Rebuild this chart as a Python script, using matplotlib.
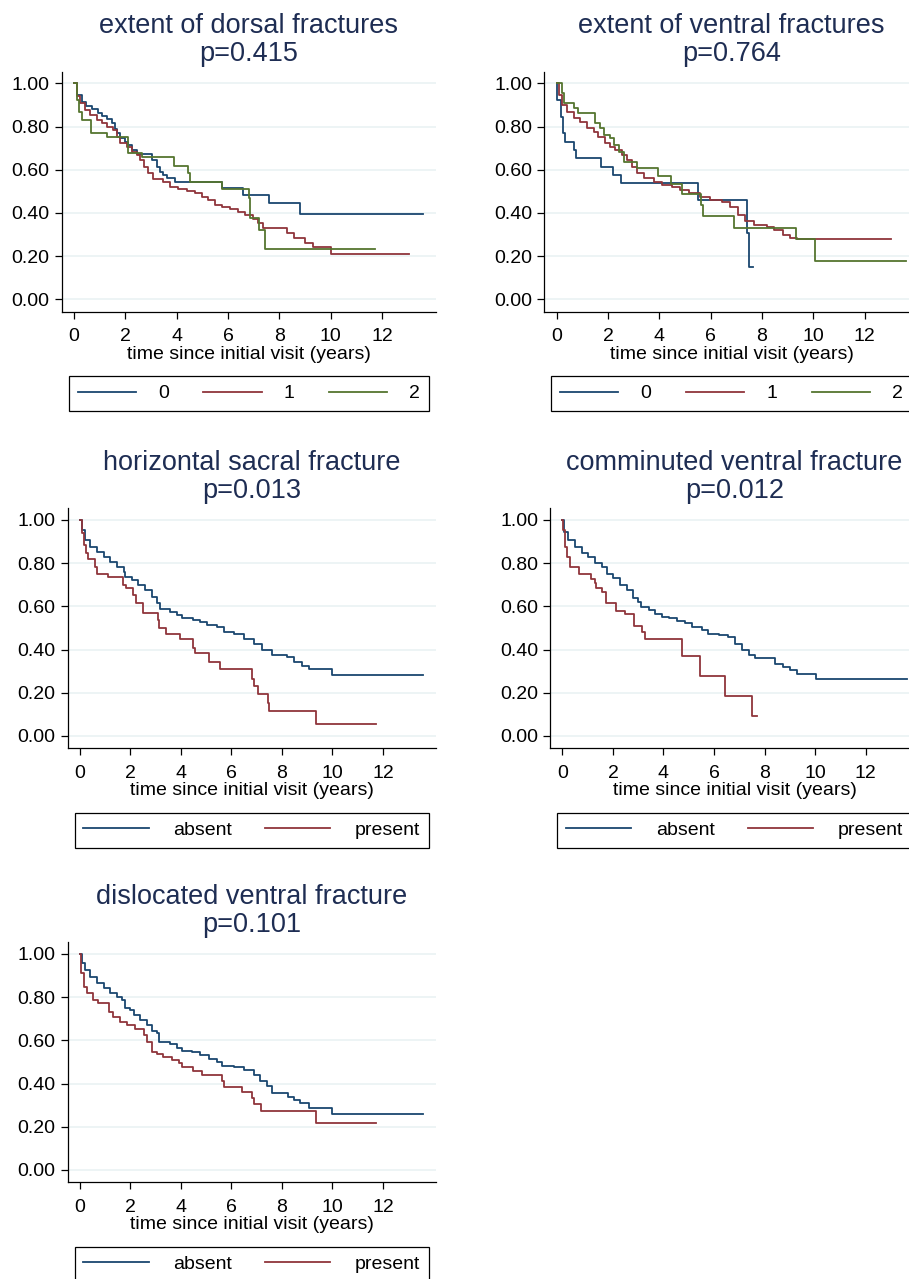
import matplotlib
matplotlib.use("Agg")
import matplotlib.pyplot as plt

plt.rcParams['font.family'] = ['Liberation Sans', 'DejaVu Sans']

NAVY = '#1a476f'
MAROON = '#90353b'
FOREST = '#55752f'
TITLE_COLOR = '#1e2d53'
GRID_COLOR = '#eaf2f3'

# --- data: Kaplan-Meier step points (time in years, survival) ---
# extent of dorsal fractures
dorsal_t0 = [0, .13, .3, .47, .69, .95, 1.1, 1.27, 1.47, 1.6, 1.69, 1.79, 1.99, 2.12, 2.25, 2.44,
             3.05, 3.22, 3.35, 3.48, 3.61, 3.94, 5.77, 6.6, 7.6, 8.8, 13.6]
dorsal_s0 = [1, .946, .915, .895, .88, .864, .85, .833, .815, .79, .772, .745, .73, .715, .69, .673,
             .645, .614, .59, .576, .56, .545, .514, .483, .444, .394, .394]
dorsal_t1 = [0, .1, .23, .43, .62, .88, 1.08, 1.27, 1.53, 1.66, 1.79, 2.05, 2.25, 2.44, 2.57, 2.73,
             2.9, 3.09, 3.48, 3.74, 4.06, 4.39, 4.71, 4.97, 5.23, 5.49, 5.75, 6.08, 6.4, 6.66, 6.99,
             7.18, 7.38, 8.29, 8.55, 9.0, 9.32, 10.0, 13.03]
dorsal_s1 = [1, .94, .907, .877, .853, .83, .815, .8, .784, .753, .722, .707, .684, .668, .645, .614,
             .583, .556, .545, .522, .509, .503, .491, .475, .46, .437, .426, .417, .406, .39, .37,
             .352, .332, .306, .282, .262, .241, .21, .21]
dorsal_t2 = [0, .13, .21, .3, .65, 1.3, 2.12, 2.64, 3.9, 4.43, 4.5, 5.77, 6.8, 6.87, 7.2, 7.45, 11.73]
dorsal_s2 = [1, .923, .869, .83, .772, .753, .676, .657, .619, .583, .545, .509, .47, .375, .32, .231, .231]

# extent of ventral fractures
ventral_t0 = [0, .02, .18, .23, .31, .69, .75, 1.73, 2.2, 2.52, 5.5, 7.4, 7.5, 7.63]
ventral_s0 = [1, .923, .846, .769, .73, .691, .653, .614, .576, .537, .46, .306, .151, .151]
ventral_t1 = [0, .08, .21, .4, .66, .92, 1.18, 1.44, 1.63, 1.89, 2.09, 2.28, 2.54, 2.74, 2.93, 3.13,
              3.39, 3.78, 4.1, 4.49, 4.81, 5.14, 5.59, 5.98, 6.43, 6.76, 7.08, 7.34, 7.67, 8.19,
              8.45, 8.83, 9.09, 9.35, 13.03]
ventral_s1 = [1, .946, .9, .869, .838, .823, .792, .776, .753, .722, .707, .691, .668, .645, .614, .583,
              .56, .545, .529, .522, .506, .491, .475, .46, .452, .429, .39, .364, .344, .336,
              .321, .298, .282, .278, .278]
ventral_t2 = [0, .21, .27, .69, .83, 1.5, 1.7, 1.83, 2.09, 2.22, 2.44, 2.61, 3.13, 3.93, 4.45, 4.88,
              5.63, 5.72, 6.9, 9.34, 10.05, 13.6]
ventral_s2 = [1, .954, .907, .884, .861, .815, .792, .761, .746, .714, .684, .637, .606, .571, .534, .486,
              .437, .386, .332, .278, .177, .177]

# horizontal sacral fracture
horiz_t_abs = [0, .08, .21, .41, .67, .94, 1.2, 1.47, 1.73, 1.8, 2.06, 2.32, 2.59, 2.85, 3.05, 3.18,
               3.58, 3.84, 4.04, 4.5, 4.77, 5.03, 5.43, 5.69, 6.09, 6.48, 6.88, 7.21, 7.6, 8.2, 8.46,
               8.79, 9.06, 10.0, 13.6]
horiz_s_abs = [1, .954, .907, .876, .853, .83, .807, .784, .76, .737, .722, .699, .675, .645, .614, .59,
               .575, .56, .544, .539, .529, .513, .505, .482, .471, .451, .428, .397, .374, .366, .343,
               .323, .312, .284, .284]
horiz_t_pre = [0, .08, .17, .25, .34, .6, .67, 1.12, 1.7, 1.84, 2.12, 2.23, 2.5, 3.1, 3.15, 3.41, 3.96,
               4.47, 4.56, 5.12, 5.54, 6.8, 6.88, 7.04, 7.43, 7.47, 9.34, 11.72]
horiz_s_pre = [1, .938, .884, .845, .818, .784, .75, .734, .699, .683, .652, .614, .57, .536, .498, .474, .447,
               .408, .382, .343, .311, .266, .232, .193, .153, .114, .057, .057]

# comminuted ventral fracture
commin_t_abs = [0, .08, .24, .5, .77, 1.03, 1.29, 1.56, 1.76, 2.02, 2.28, 2.55, 2.81, 3.01, 3.12, 3.41,
                3.67, 3.93, 4.2, 4.53, 4.86, 5.12, 5.52, 5.78, 6.18, 6.57, 6.84, 7.1, 7.37, 7.63, 8.42,
                8.75, 9.02, 9.28, 10.03, 13.64]
commin_s_abs = [1, .946, .907, .876, .845, .827, .799, .784, .75, .73, .699, .675, .641, .621, .595, .583,
                .567, .549, .544, .533, .521, .505, .49, .471, .467, .456, .428, .397, .374, .359, .335,
                .32, .304, .289, .266, .266]
commin_t_pre = [0, .04, .11, .17, .3, .67, 1.14, 1.27, 1.32, 1.56, 1.72, 2.13, 2.49, 2.85, 3.14, 3.25,
                4.75, 5.45, 6.44, 7.5, 7.7]
commin_s_pre = [1, .954, .876, .83, .784, .75, .726, .706, .683, .668, .617, .58, .564, .508, .482, .448,
                .372, .28, .185, .093, .093]

# dislocated ventral fracture
disloc_t_abs = [0, .08, .21, .41, .67, .94, 1.2, 1.47, 1.66, 1.8, 1.99, 2.13, 2.39, 2.65, 2.85, 3.05,
                3.15, 3.58, 3.84, 4.04, 4.44, 4.77, 5.1, 5.43, 5.62, 6.09, 6.48, 6.88, 7.14, 7.41, 7.6,
                8.26, 8.46, 8.73, 9.06, 10.0, 13.6]
disloc_s_abs = [1, .957, .926, .895, .864, .841, .818, .802, .787, .748, .741, .717, .694, .671, .645, .632,
                .594, .583, .563, .552, .547, .532, .516, .501, .481, .478, .465, .439, .413, .388, .357,
                .338, .326, .308, .289, .258, .258]
disloc_t_pre = [0, .05, .15, .28, .54, .7, 1.14, 1.33, 1.6, 1.86, 2.19, 2.55, 2.65, 2.85, 3.05, 3.29,
                3.64, 3.91, 4.04, 4.5, 4.83, 5.62, 5.72, 6.41, 6.8, 6.88, 7.19, 9.34, 11.72]
disloc_s_pre = [1, .91, .849, .818, .787, .771, .733, .709, .686, .671, .651, .624, .594, .547, .535, .524,
                .508, .493, .478, .459, .439, .413, .385, .359, .331, .304, .275, .218, .218]

grade_labels = ['0', '1', '2']
presence_labels = ['absent', 'present']

W, H = 909, 1279
AX_H = 240.0

fig = plt.figure(figsize=(W / 100, H / 100), dpi=100)


def add_panel(left, top, width, title, pval, series, labels):
    ax = fig.add_axes([left / W, 1 - (top + AX_H) / H, width / W, AX_H / H])
    colors = [NAVY, MAROON, FOREST]
    handles = []
    for (t, s), c in zip(series, colors):
        ln, = ax.step(t, s, where='post', color=c, lw=1.3)
        handles.append(ln)

    ax.set_xlim(-0.48, 14.1)
    ax.set_ylim(-0.057, 1.054)
    ax.set_xticks(range(0, 13, 2))
    ax.set_yticks([0, .2, .4, .6, .8, 1.0])
    ax.set_yticklabels(['%.2f' % v for v in [0, .2, .4, .6, .8, 1.0]])
    ax.yaxis.grid(True, color=GRID_COLOR, lw=1.2)
    ax.set_axisbelow(True)
    for side in ['top', 'right']:
        ax.spines[side].set_visible(False)
    for side in ['left', 'bottom']:
        ax.spines[side].set_color('black')
        ax.spines[side].set_linewidth(0.9)
    ax.tick_params(direction='out', length=4.8, width=0.9, pad=4, labelsize=14, colors='black')
    ax.tick_params(axis='x', pad=7)
    ax.set_xlabel('time since initial visit (years)', fontsize=14, labelpad=0.5)

    ax.text(0.5, 1 + 38.3 / AX_H, title, transform=ax.transAxes, ha='center', va='baseline',
            fontsize=19.5, color=TITLE_COLOR)
    ax.text(0.5, 1 + 10.5 / AX_H, 'p=' + pval, transform=ax.transAxes, ha='center', va='baseline',
            fontsize=19.5, color=TITLE_COLOR)

    n = len(labels)
    hl, tp = (3.0, 1.13) if n == 3 else (3.35, 1.26)
    leg = ax.legend(handles, labels, loc='upper left', bbox_to_anchor=(0.019, -0.4155, 0.962, 0.1475),
                    mode='expand', ncol=n, fontsize=14, handlelength=hl, handletextpad=tp,
                    borderpad=0.45, borderaxespad=0, frameon=True, fancybox=False,
                    edgecolor='black', framealpha=1)
    leg.get_frame().set_linewidth(0.9)
    return ax


add_panel(61.7, 71.7, 374.3, 'extent of dorsal fractures', '0.415',
          [(dorsal_t0, dorsal_s0), (dorsal_t1, dorsal_s1), (dorsal_t2, dorsal_s2)], grade_labels)
add_panel(544.3, 71.7, 374.3, 'extent of ventral fractures', '0.764',
          [(ventral_t0, ventral_s0), (ventral_t1, ventral_s1), (ventral_t2, ventral_s2)], grade_labels)
add_panel(67.7, 508.3, 368.3, 'horizontal sacral fracture', '0.013',
          [(horiz_t_abs, horiz_s_abs), (horiz_t_pre, horiz_s_pre)], presence_labels)
add_panel(550.3, 508.3, 368.3, 'comminuted ventral fracture', '0.012',
          [(commin_t_abs, commin_s_abs), (commin_t_pre, commin_s_pre)], presence_labels)
add_panel(67.7, 942.3, 368.3, 'dislocated ventral fracture', '0.101',
          [(disloc_t_abs, disloc_s_abs), (disloc_t_pre, disloc_s_pre)], presence_labels)

fig.savefig('out.png', dpi=100)
